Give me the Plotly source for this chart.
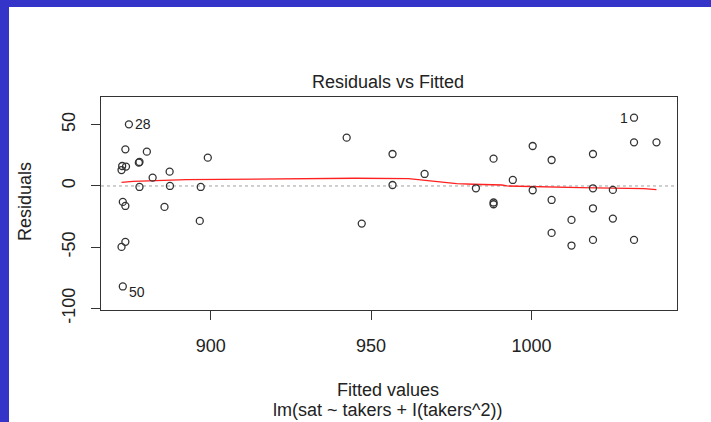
import plotly.graph_objects as go

# Fitted values and residuals
fitted = [874.5, 873.4, 880.1, 872.4, 873.6, 872.2, 877.6, 877.8, 899.1, 887.2,
          881.9, 877.8, 887.3, 896.9, 872.6, 873.4, 885.6, 896.6, 873.4, 872.2,
          872.6,
          942.4, 956.7, 966.7, 956.7, 947.1, 982.7, 988.2, 988.2, 988.2, 994.2,
          1000.4, 1000.4, 1006.3, 1006.3, 1006.3, 1012.5, 1012.5,
          1019.2, 1019.2, 1019.2, 1019.2, 1025.4, 1025.4,
          1032.0, 1032.0, 1032.0, 1039.0]
residuals = [50.3, 29.9, 28.0, 16.3, 15.8, 13.0, 19.0, 19.6, 23.1, 11.7,
             6.8, -0.8, 0.0, -0.8, -13.0, -16.3, -17.1, -28.5, -45.6, -49.7,
             -82.0,
             39.4, 26.1, 9.8, 0.8, -30.7, -1.9, 22.3, -13.5, -14.9, 4.9,
             32.6, -3.5, 21.2, -11.4, -38.3, -27.7, -48.6,
             26.1, -1.9, -18.2, -44.0, -3.2, -26.6,
             55.7, 35.6, -44.0, 35.6]

# Smoother (red line)
smooth_x = [872.2, 875.8, 892.4, 945.0, 961.7, 968.4, 976.7, 981.9, 990.8,
            992.4, 1003.3, 1015.3, 1035.1, 1039.0]
smooth_y = [3.0, 3.8, 5.2, 6.3, 6.0, 4.4, 1.9, 1.4, 0.8, 0.0, -0.8, -1.3,
            -2.1, -3.0]

# Labelled observations
lab_text = ["28", "50", "1"]
lab_x = [874.5, 872.6, 1032.0]
lab_y = [50.3, -82.0, 55.7]

x_ticks = [900, 950, 1000]
y_ticks = [-100, -50, 0, 50]

FONT = "Liberation Sans, Arial, Helvetica, sans-serif"
TXT = "#222222"
BLUE = "#3434c9"

fig = go.Figure()

# white page area inside the blue frame (left and top strips stay blue)
fig.add_shape(type="rect", xref="paper", yref="paper",
              x0=-0.1597, x1=1.2, y0=-0.7, y1=1.4225,
              fillcolor="white", line=dict(width=0), layer="below")
# zero reference line
fig.add_shape(type="line", xref="paper", yref="y", x0=0, x1=1, y0=0, y1=0,
              line=dict(color="#a0a0a0", width=1, dash="dot"), layer="below")

fig.add_trace(go.Scatter(
    x=smooth_x, y=smooth_y, mode="lines",
    line=dict(color="#ff2020", width=1.3), hoverinfo="skip"))
fig.add_trace(go.Scatter(
    x=fitted, y=residuals, mode="markers",
    marker=dict(symbol="circle-open", size=7, color="#333333",
                line=dict(width=1.3, color="#333333"))))

# point labels
for t, xv, yv in zip(lab_text, lab_x, lab_y):
    if xv < 950:
        fig.add_annotation(x=xv, y=yv, text=t, showarrow=False,
                           xanchor="left", yanchor="middle", xshift=4,
                           yshift=(-6 if yv < 0 else 0),
                           font=dict(family=FONT, size=14, color=TXT))
    else:
        fig.add_annotation(x=xv, y=yv, text=t, showarrow=False,
                           xanchor="right", yanchor="middle", xshift=-4,
                           font=dict(family=FONT, size=14, color=TXT))

# titles
fig.add_annotation(xref="paper", yref="paper", x=0.499, y=1.070,
                   xanchor="center", yanchor="middle",
                   text="Residuals vs Fitted", showarrow=False,
                   font=dict(family=FONT, size=18, color=TXT))
fig.add_annotation(xref="paper", yref="paper", x=0.499, y=-0.3756,
                   xanchor="center", yanchor="middle",
                   text="Fitted values", showarrow=False,
                   font=dict(family=FONT, size=18, color=TXT))
fig.add_annotation(xref="paper", yref="paper", x=0.499, y=-0.469,
                   xanchor="center", yanchor="middle",
                   text="lm(sat ~ takers + I(takers^2))", showarrow=False,
                   font=dict(family=FONT, size=18, color=TXT))
fig.add_annotation(xref="paper", yref="paper", x=-0.1328, y=0.509,
                   xanchor="center", yanchor="middle",
                   text="Residuals", showarrow=False, textangle=-90,
                   font=dict(family=FONT, size=18, color=TXT))

axis_common = dict(showgrid=False, zeroline=False, showline=True, mirror=True,
                   linecolor="#333333", linewidth=1, ticks="outside",
                   ticklen=9, tickcolor="#333333", tickwidth=1,
                   tickfont=dict(family=FONT, size=18, color=TXT))

fig.update_layout(
    width=711, height=422,
    margin=dict(l=101, r=34, t=97, b=112),
    paper_bgcolor=BLUE, plot_bgcolor="white",
    showlegend=False,
    xaxis=dict(range=[865.8, 1045.4], tickvals=x_ticks,
               ticktext=[str(v) for v in x_ticks],
               ticklabelstandoff=10, **axis_common),
    yaxis=dict(range=[-101.2, 72.6], tickvals=y_ticks,
               ticktext=[str(v) for v in y_ticks], tickangle=-90,
               ticklabelstandoff=9, **axis_common),
)

fig.write_html("out.html",
               config={"displayModeBar": False},
               post_script="document.body.style.margin='0';"
                           "document.body.style.padding='0';")
